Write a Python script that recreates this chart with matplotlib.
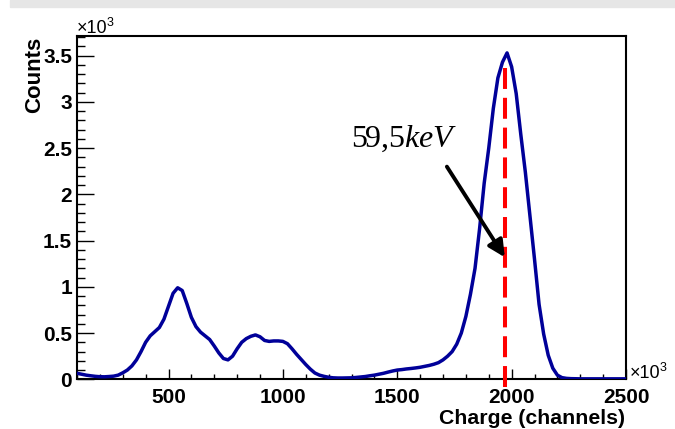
import matplotlib
matplotlib.use("Agg")
import matplotlib.pyplot as plt
from matplotlib.ticker import MultipleLocator, FuncFormatter
from matplotlib.patches import Rectangle

plt.rcParams['font.family'] = ['Liberation Sans', 'DejaVu Sans']
plt.rcParams['mathtext.fontset'] = 'custom'
plt.rcParams['mathtext.rm'] = 'Liberation Serif'
plt.rcParams['mathtext.it'] = 'Liberation Serif:italic'

# Charge spectrum (channels, x10^3) and counts (x10^3)
channels = list(range(100, 2501, 20))
counts = [
    0.065, 0.055, 0.045, 0.038, 0.032, 0.028, 0.027, 0.030, 0.034, 0.045,   # 100-280
    0.070, 0.100, 0.145, 0.210, 0.300, 0.400, 0.470, 0.515, 0.560, 0.650,   # 300-480
    0.790, 0.930, 0.990, 0.960, 0.820, 0.670, 0.570, 0.510, 0.470, 0.430,   # 500-680
    0.360, 0.285, 0.225, 0.210, 0.250, 0.330, 0.400, 0.440, 0.465, 0.480,   # 700-880
    0.460, 0.420, 0.410, 0.415, 0.415, 0.410, 0.385, 0.330, 0.270, 0.215,   # 900-1080
    0.160, 0.110, 0.068, 0.045, 0.032, 0.022, 0.016, 0.014, 0.014, 0.015,   # 1100-1280
    0.016, 0.020, 0.025, 0.030, 0.038, 0.045, 0.055, 0.065, 0.078, 0.090,   # 1300-1480
    0.100, 0.105, 0.112, 0.117, 0.123, 0.130, 0.140, 0.150, 0.163, 0.180,   # 1500-1680
    0.210, 0.250, 0.300, 0.380, 0.500, 0.680, 0.920, 1.200, 1.630, 2.120,   # 1700-1880
    2.500, 2.930, 3.260, 3.430, 3.530, 3.380, 3.090, 2.650, 2.240, 1.770,   # 1900-2080
    1.300, 0.810, 0.490, 0.260, 0.120, 0.045, 0.018, 0.010, 0.007, 0.006,   # 2100-2280
    0.005, 0.005, 0.005, 0.005, 0.005, 0.005, 0.005, 0.005, 0.005, 0.005,   # 2300-2480
    0.005,                                                                  # 2500
]

peak_channel = 1972
peak_line_top = 3.42
peak_label = r'$\mathrm{59{,}5}keV$'
arrow_from = (1717, 2.30)
arrow_to = (1970, 1.32)

W, H = 675, 429
fig = plt.figure(figsize=(W / 100, H / 100), dpi=100)

# light grey strip along the top of the canvas
fig.patches.append(Rectangle((10 / W, 1 - 7 / H), 1 - 10 / W, 7 / H,
                             transform=fig.transFigure, color='#e6e6e6', zorder=0))

ax = fig.add_axes([77 / W, 1 - 379.3 / H, (626 - 77) / W, (379.3 - 36) / H])

ax.plot(channels, counts, color='#000099', lw=2.5, solid_joinstyle='round', zorder=3)

ax.set_xlim(100, 2500)
ax.set_ylim(0, 3.713)

# dashed marker at the photopeak
ax.plot([peak_channel, peak_channel], [-0.085, peak_line_top], color='#ff0000',
        lw=2.9, dashes=(5.2, 2.2), clip_on=False, zorder=4)

ax.annotate('', xy=arrow_to, xytext=arrow_from,
            arrowprops=dict(arrowstyle='-|>,head_length=1.0,head_width=0.5',
                            color='black', lw=2.8, shrinkA=0, shrinkB=0), zorder=5)
ax.text(1296, 2.51, peak_label, fontsize=23, ha='left', va='baseline', color='black')

for side in ['left', 'bottom', 'right', 'top']:
    ax.spines[side].set_linewidth(1.5)
    ax.spines[side].set_color('black')

ax.xaxis.set_major_locator(MultipleLocator(500))
ax.xaxis.set_minor_locator(MultipleLocator(100))
ax.yaxis.set_major_locator(MultipleLocator(0.5))
ax.yaxis.set_minor_locator(MultipleLocator(0.1))
ax.yaxis.set_major_formatter(FuncFormatter(lambda v, p: f'{v:g}'))
ax.xaxis.set_major_formatter(FuncFormatter(lambda v, p: f'{v:g}'))

ax.tick_params(axis='x', which='major', direction='in', length=7.2, width=1.0,
               labelsize=15, pad=6.3, top=False)
ax.tick_params(axis='x', which='minor', direction='in', length=3.6, width=1.0, top=False)
ax.tick_params(axis='y', which='major', direction='in', length=12, width=1.0,
               labelsize=15, pad=3.6, right=False)
ax.tick_params(axis='y', which='minor', direction='in', length=6, width=1.0, right=False)
for lab in ax.get_xticklabels() + ax.get_yticklabels():
    lab.set_fontweight('bold')

fig.text(35 / W, 1 - 37 / H, 'Counts', rotation=90, ha='center', va='top',
         fontsize=16, fontweight='bold')
fig.text(625 / W, 1 - 419 / H, 'Charge (channels)', ha='right', va='center',
         fontsize=15.3, fontweight='bold')


def axis_multiplier(x_px, base_px):
    """Draw a ROOT-style 'x10^3' multiplier with the base at (x_px, base_px)."""
    fig.text(x_px / W, 1 - base_px / H, '×10', ha='left', va='baseline', fontsize=13)
    fig.text((x_px + 30) / W, 1 - (base_px - 7) / H, '3', ha='left', va='baseline',
             fontsize=9)


axis_multiplier(77, 33)
axis_multiplier(630, 378)

fig.savefig('out.png', dpi=100)
